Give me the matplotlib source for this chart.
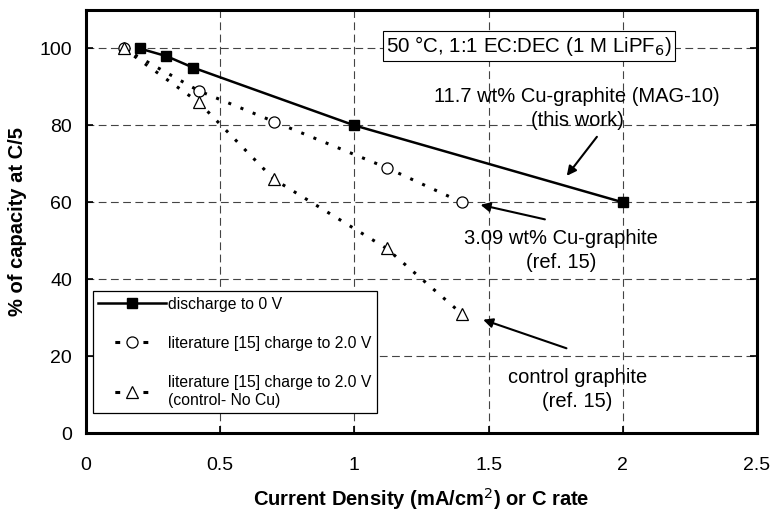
import matplotlib.pyplot as plt

plt.rcParams['font.family'] = ['Liberation Sans', 'DejaVu Sans']

# data
x_disch = [0.2, 0.3, 0.4, 1.0, 2.0]
y_disch = [100, 98, 95, 80, 60]
x_lit = [0.14, 0.42, 0.70, 1.12, 1.40]
y_lit = [100, 89, 81, 69, 60]
x_ctrl = [0.14, 0.42, 0.70, 1.12, 1.40]
y_ctrl = [100, 86, 66, 48, 31]

fig = plt.figure(figsize=(7.71, 5.11), dpi=100)
ax = fig.add_axes([0.1115, 0.1526, 0.8703, 0.8278])

dots = (0, (1, 3.3))
ax.plot(x_disch, y_disch, color='black', lw=1.8, marker='s', ms=7.5,
        mfc='black', mec='black', label='discharge to 0 V', zorder=3)
ax.plot(x_lit, y_lit, color='black', lw=2.2, ls=dots, marker='o', ms=8,
        mfc='white', mec='black', mew=0.9, label='literature [15] charge to 2.0 V', zorder=3)
ax.plot(x_ctrl, y_ctrl, color='black', lw=2.2, ls=dots, marker='^', ms=9,
        mfc='white', mec='black', mew=0.9,
        label='literature [15] charge to 2.0 V\n(control- No Cu)', zorder=3)

ax.set_xlim(0, 2.5)
ax.set_ylim(0, 110)
ax.set_xticks([0, 0.5, 1, 1.5, 2, 2.5])
ax.set_xticklabels(['0', '0.5', '1', '1.5', '2', '2.5'])
ax.set_yticks([0, 20, 40, 60, 80, 100])
ax.grid(True, ls=(0, (7, 4)), color='#444444', lw=0.8)
ax.tick_params(axis='x', direction='in', length=5, width=1.2, labelsize=14, pad=17)
ax.tick_params(axis='y', direction='in', length=5, width=1.2, labelsize=14, right=True, pad=10)
for s in ax.spines.values():
    s.set_linewidth(2.2)

ax.set_xlabel('Current Density (mA/cm$^2$) or C rate', fontsize=14.5, fontweight='bold', labelpad=9)
ax.set_ylabel('% of capacity at C/5', fontsize=14.5, fontweight='bold', labelpad=9)

ax.text(1.65, 100.6, '50 °C, 1:1 EC:DEC (1 M LiPF$_6$)', fontsize=14.8, ha='center', va='center',
        bbox=dict(boxstyle='square,pad=0.15', fc='white', ec='black', lw=0.8), zorder=4)

arrow = dict(arrowstyle='-|>', color='black', lw=1.5, mutation_scale=14)
ax.text(1.83, 84.4, '11.7 wt% Cu-graphite (MAG-10)\n(this work)', fontsize=14.5, ha='center',
        va='center', linespacing=1.3)
ax.annotate('', xy=(1.785, 66.3), xytext=(1.91, 77.6), zorder=4, arrowprops=arrow)
ax.annotate('', xy=(1.46, 59.5), xytext=(1.72, 55.4), zorder=4, arrowprops=arrow)
ax.text(1.77, 47.4, '3.09 wt% Cu-graphite\n(ref. 15)', fontsize=14.5, ha='center', va='center',
        linespacing=1.35)
ax.annotate('', xy=(1.47, 29.7), xytext=(1.80, 21.8), zorder=4, arrowprops=arrow)
ax.text(1.83, 11.3, 'control graphite\n(ref. 15)', fontsize=14.5, ha='center', va='center',
        linespacing=1.3)

leg = ax.legend(loc='lower left', bbox_to_anchor=(0.0104, 0.047), fontsize=11.3, frameon=True,
                fancybox=False, edgecolor='black', framealpha=1, labelspacing=1.55,
                handlelength=4.3, handletextpad=0.15, borderpad=0.35, borderaxespad=0)
leg.get_frame().set_linewidth(0.9)
# dotted handles in the reference show one short dash each side of the marker
for ln in leg.get_lines()[1:]:
    ln.set_linestyle((3.7, (1.6, 7.6)))

fig.savefig('out.png', dpi=100)
